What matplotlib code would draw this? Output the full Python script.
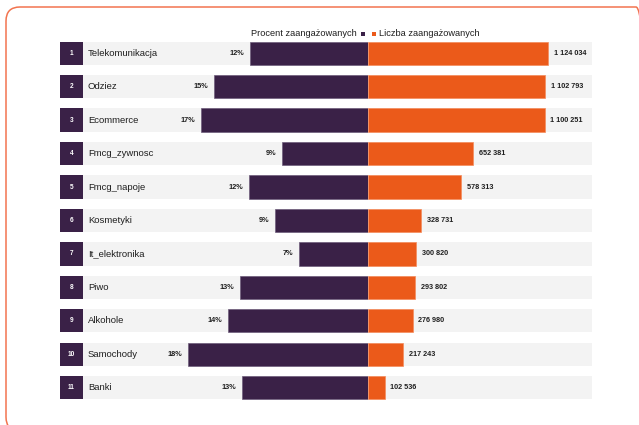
import matplotlib
matplotlib.use("Agg")
import matplotlib.pyplot as plt
from matplotlib.patches import FancyBboxPatch, Rectangle
from matplotlib.transforms import IdentityTransform, blended_transform_factory

# Data
categories = ["Telekomunikacja", "Odziez", "Ecommerce", "Fmcg_zywnosc", "Fmcg_napoje",
              "Kosmetyki", "It_elektronika", "Piwo", "Alkohole", "Samochody", "Banki"]
percent_engaged = [11.8, 15.4, 16.7, 8.6, 11.9, 9.3, 6.9, 12.8, 14.0, 18.0, 12.6]
count_engaged = [1124034, 1102793, 1100251, 652381, 578313, 328731, 300820,
                 293802, 276980, 217243, 102536]
legend_left = "Procent zaangażowanych"
legend_right = "Liczba zaangażowanych"

PURPLE = "#3a2147"
ORANGE = "#eb5a1a"
GRAY = "#f3f3f3"
TEXT = "#1f1f1f"
BORDER = "#f2744f"

plt.rcParams["font.family"] = ["Liberation Sans", "DejaVu Sans"]

W, H = 639, 425
fig = plt.figure(figsize=(W / 100, H / 100), dpi=100)
fig.patch.set_facecolor("white")

def px_box(x0, x1, ytop, ybot):
    return [x0 / W, 1 - ybot / H, (x1 - x0) / W, (ybot - ytop) / H]

row_top, row_bot = 36.5, 404.4
x_idx0, x_mid, x_end = 60.3, 368.3, 591.7
x_gray0 = 82.7

ax_idx = fig.add_axes(px_box(x_idx0, x_gray0, row_top, row_bot))
ax_l = fig.add_axes(px_box(x_gray0, x_mid, row_top, row_bot))
ax_r = fig.add_axes(px_box(x_mid, x_end, row_top, row_bot))

n = len(categories)
ys = list(range(n))
bar_h = 0.70

pct_max = (x_mid - x_gray0) / 10.0          # 10 px per percent point
cnt_per_px = 1 / 1.602e-4
cnt_max = (x_end - x_mid) * cnt_per_px

for ax in (ax_idx, ax_l, ax_r):
    ax.set_ylim(n - 0.5, -0.5)
    ax.axis("off")

# Index boxes
ax_idx.set_xlim(0, 1)
ax_idx.barh(ys, [1] * n, height=bar_h, color=PURPLE, linewidth=0)
for y in ys:
    ax_idx.text(0.5, y, str(y + 1), ha="center", va="center", color="white",
                fontsize=4.7, fontweight="bold")

# Left half: percent share, growing leftwards
ax_l.set_xlim(pct_max, 0)
ax_l.barh(ys, [pct_max] * n, height=bar_h, color=GRAY, linewidth=0)
ax_l.barh(ys, percent_engaged, height=bar_h, color=PURPLE,
          edgecolor="#6e5d7c", linewidth=0.5)
lab_tr = blended_transform_factory(ax_l.transAxes, ax_l.transData)
for y, name, p in zip(ys, categories, percent_engaged):
    ax_l.text(5.3 / (x_mid - x_gray0), y, name, transform=lab_tr, ha="left",
              va="center", fontsize=6.8, color=TEXT)
    ax_l.text(p + 0.6, y, f"{p:.0f}%", ha="right", va="center",
              fontsize=5.3, fontweight="bold", color=TEXT)

# Right half: number of engaged users
ax_r.set_xlim(0, cnt_max)
ax_r.barh(ys, [cnt_max] * n, height=bar_h, color=GRAY, linewidth=0)
ax_r.barh(ys, count_engaged, height=bar_h, color=ORANGE,
          edgecolor="#f58c5c", linewidth=0.5)
for y, c in zip(ys, count_engaged):
    ax_r.text(c + 5.7 * cnt_per_px, y, f"{c:,}".replace(",", " "), ha="left",
              va="center", fontsize=5.2, fontweight="bold", color=TEXT)

# Legend
ly = 1 - 33.3 / H
fig.text(356.7 / W, ly, legend_left, ha="right", va="center", fontsize=6.7, color=TEXT)
fig.text(378.7 / W, ly, legend_right, ha="left", va="center", fontsize=6.7, color=TEXT)
for x0, col in ((361.2, PURPLE), (371.8, ORANGE)):
    fig.add_artist(Rectangle((x0, H - 36.0), 4.0, 4.0, transform=IdentityTransform(),
                             facecolor=col, edgecolor="none"))

# Rounded frame
fig.add_artist(FancyBboxPatch((6, -6), 644, 424,
                              boxstyle="round,pad=0,rounding_size=14",
                              transform=IdentityTransform(), facecolor="none",
                              edgecolor=BORDER, linewidth=1.1))

fig.savefig("out.png", dpi=100, facecolor="white")
